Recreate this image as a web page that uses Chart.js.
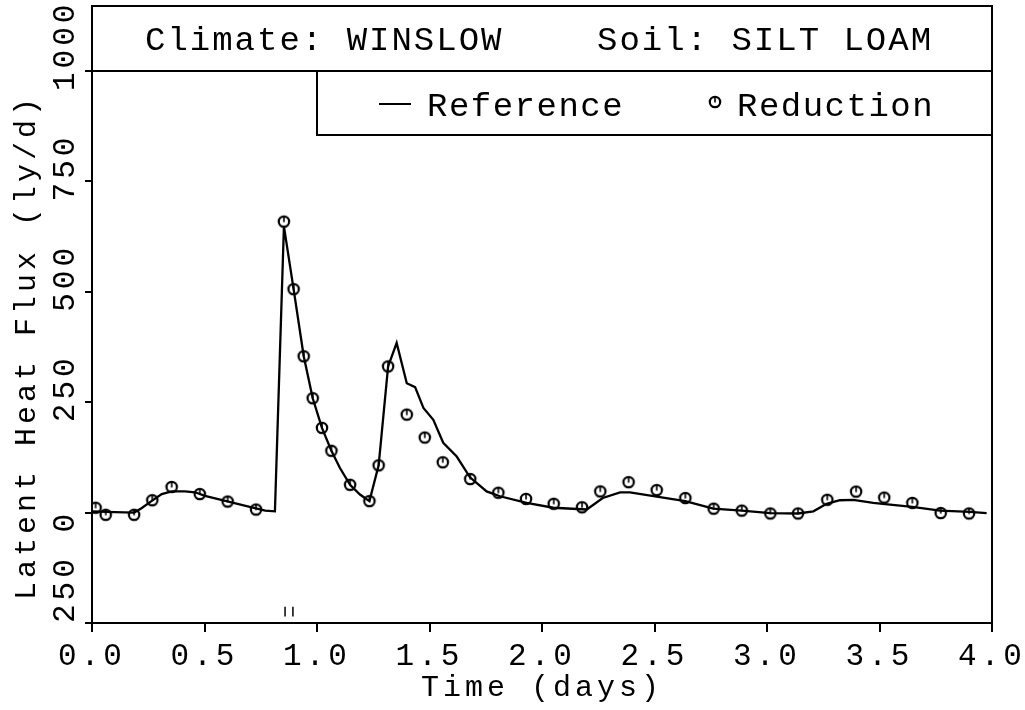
<!DOCTYPE html>
<html>
<head>
<meta charset="utf-8">
<title>Latent Heat Flux - Winslow</title>
<script src="https://cdn.jsdelivr.net/npm/chart.js@4.4.1/dist/chart.umd.min.js"></script>
<style>
    html, body { margin: 0; padding: 0; background: #fff; }
    #wrap { width: 1025px; height: 710px; }
</style>
</head>
<body>
<div id="wrap"><canvas id="myChart" width="1025" height="710"></canvas></div>
<script>
// reference run (solid line)
const refTime = [0, 0.10, 0.187, 0.22, 0.264, 0.31, 0.354, 0.413, 0.458, 0.502, 0.606, 0.71, 0.77, 0.813,
    0.853, 0.896, 0.941, 0.981, 1.022, 1.064, 1.102, 1.147, 1.191, 1.233, 1.274, 1.316, 1.354, 1.399,
    1.436, 1.473, 1.517, 1.561, 1.621, 1.68, 1.754, 1.813, 1.932, 2.05, 2.199, 2.27, 2.347, 2.391,
    2.51, 2.637, 2.761, 2.888, 3.015, 3.138, 3.206, 3.265, 3.324, 3.384, 3.472, 3.547, 3.646, 3.769,
    3.902, 3.976];
const refFlux = [3, 1, 0, 10, 26, 42, 48, 48, 46, 38, 25, 12, 4.5, 3,
    648, 506, 354, 259, 192, 140, 101, 63, 41, 26, 107, 331, 384, 293,
    284, 237, 210, 158, 127, 80, 48, 37, 22, 11, 7, 33, 46, 46,
    36, 26, 9, 4.5, -1, -2, 3, 20, 28, 29, 22, 18, 13, 4.5,
    1.5, -1];

// reduction run (circles)
const redTime = [0.016, 0.061, 0.187, 0.268, 0.354, 0.479, 0.603, 0.729,
    0.853, 0.896, 0.941, 0.981, 1.022, 1.064, 1.147, 1.233, 1.274, 1.316,
    1.399, 1.479, 1.559, 1.681, 1.806, 1.929, 2.052, 2.178,
    2.259, 2.385, 2.510, 2.637, 2.763, 2.888, 3.015, 3.138,
    3.268, 3.396, 3.521, 3.646, 3.772, 3.898];
const redFlux = [11, -5, -5, 28, 58, 42, 25, 7,
    659, 506, 354, 259, 192, 140, 63, 26, 107, 331,
    222, 170, 114, 76, 45, 31, 20, 12,
    48, 69, 51, 33, 9, 4.5, -2, -2,
    29, 47.5, 34, 22, -1, -2];

const yTickValues = [-250, 0, 250, 500, 750, 1000];
const yTickLabels = ['250', '0', '250', '500', '750', '1000'];
const flagTimes = [0.858, 0.893];

const headerLeft = 'Climate: WINSLOW';
const headerRight = 'Soil: SILT LOAM';
const legendLabels = ['Reference', 'Reduction'];

const FONT = "'Liberation Mono', 'DejaVu Sans Mono', monospace";

function makeMarker() {
    const c = document.createElement('canvas');
    c.width = 16;
    c.height = 16;
    const g = c.getContext('2d');
    g.strokeStyle = '#000';
    g.lineWidth = 2.2;
    g.beginPath();
    g.arc(8, 8, 5.2, 0, Math.PI * 2);
    g.stroke();
    g.lineWidth = 1.6;
    g.beginPath();
    g.moveTo(8, 8.5);
    g.lineTo(8, 4);
    g.stroke();
    return c;
}
const marker = makeMarker();

const framePlugin = {
    id: 'framePlugin',
    beforeLayout(chart) {
        chart.ctx.letterSpacing = '4px';
    },
    beforeDraw(chart) {
        chart.ctx.letterSpacing = '4px';
    },
    afterDraw(chart) {
        const { ctx, chartArea: area, scales: { x, y } } = chart;
        ctx.save();
        ctx.strokeStyle = '#000';
        ctx.fillStyle = '#000';
        ctx.lineWidth = 2;

        // plot frame + header box
        ctx.strokeRect(area.left, area.top, area.right - area.left, area.bottom - area.top);
        ctx.strokeRect(area.left, 6, area.right - area.left, area.top - 6);

        // legend box
        const lx = x.getPixelForValue(1.0);
        ctx.beginPath();
        ctx.moveTo(lx, area.top);
        ctx.lineTo(lx, area.top + 64);
        ctx.lineTo(area.right, area.top + 64);
        ctx.stroke();

        // header text
        ctx.font = '34px ' + FONT;
        ctx.letterSpacing = '2px';
        ctx.textAlign = 'left';
        ctx.textBaseline = 'alphabetic';
        ctx.fillText(headerLeft, 145, 50);
        ctx.fillText(headerRight, 597, 50);

        // legend entries
        ctx.letterSpacing = '1.5px';
        ctx.fillText(legendLabels[0], 427, 116);
        ctx.fillText(legendLabels[1], 737, 116);
        ctx.beginPath();
        ctx.moveTo(379, 104);
        ctx.lineTo(411, 104);
        ctx.stroke();
        ctx.drawImage(marker, 715 - 8, 102 - 8);

        // y tick labels, rotated
        ctx.font = '31px ' + FONT;
        ctx.letterSpacing = '4px';
        ctx.textBaseline = 'middle';
        yTickValues.forEach((v, i) => {
            const py = Math.min(y.getPixelForValue(v) + 20, area.bottom);
            ctx.save();
            ctx.translate(66, py);
            ctx.rotate(-Math.PI / 2);
            ctx.fillText(yTickLabels[i], 0, 0);
            ctx.restore();
        });

        // small flags near the x axis
        ctx.lineWidth = 1.5;
        flagTimes.forEach((t) => {
            const px = x.getPixelForValue(t);
            ctx.beginPath();
            ctx.moveTo(px, y.getPixelForValue(-213));
            ctx.lineTo(px, y.getPixelForValue(-235));
            ctx.stroke();
        });
        ctx.restore();
    }
};

Chart.defaults.font.family = FONT;
Chart.defaults.color = '#000';

const refData = refTime.map((t, i) => ({ x: t, y: refFlux[i] }));
const redData = redTime.map((t, i) => ({ x: t, y: redFlux[i] }));

let ctx = document.getElementById('myChart');
let myChart = new Chart(ctx, {
    type: 'scatter',
    data: {
        datasets: [
            {
                label: 'Reference',
                data: refData,
                showLine: true,
                borderColor: '#000',
                borderWidth: 2.3,
                pointRadius: 0,
                tension: 0,
            },
            {
                label: 'Reduction',
                data: redData,
                showLine: false,
                pointStyle: marker,
                pointRadius: 6,
            },
        ],
    },
    options: {
        responsive: false,
        animation: false,
        layout: { padding: { top: 71, right: 33, left: 0, bottom: 0 } },
        plugins: {
            legend: { display: false },
            title: { display: false },
            tooltip: { enabled: false },
        },
        scales: {
            x: {
                type: 'linear',
                min: 0,
                max: 4,
                grid: { drawOnChartArea: false, color: '#000', lineWidth: 2, tickLength: 9 },
                border: { color: '#000', width: 2 },
                ticks: {
                    stepSize: 0.5,
                    autoSkip: false,
                    maxRotation: 0,
                    padding: 6,
                    font: { size: 31 },
                    callback: (v) => v.toFixed(1),
                },
                title: {
                    display: true,
                    text: 'Time (days)',
                    font: { size: 30 },
                    padding: { top: 0, bottom: 4 },
                },
                afterFit: (scale) => {
                    scale.height = 87;
                    scale.paddingLeft = 0;
                    scale.paddingRight = 0;
                },
            },
            y: {
                min: -250,
                max: 1000,
                grid: { drawOnChartArea: false, color: '#000', lineWidth: 2, tickLength: 7 },
                border: { color: '#000', width: 2 },
                ticks: { display: false, stepSize: 250 },
                title: {
                    display: true,
                    text: 'Latent Heat Flux (ly/d)',
                    font: { size: 30 },
                    padding: { top: 9, bottom: 0 },
                },
                afterFit: (scale) => {
                    scale.width = 92;
                },
            },
        },
    },
    plugins: [framePlugin],
});
</script>
</body>
</html>
